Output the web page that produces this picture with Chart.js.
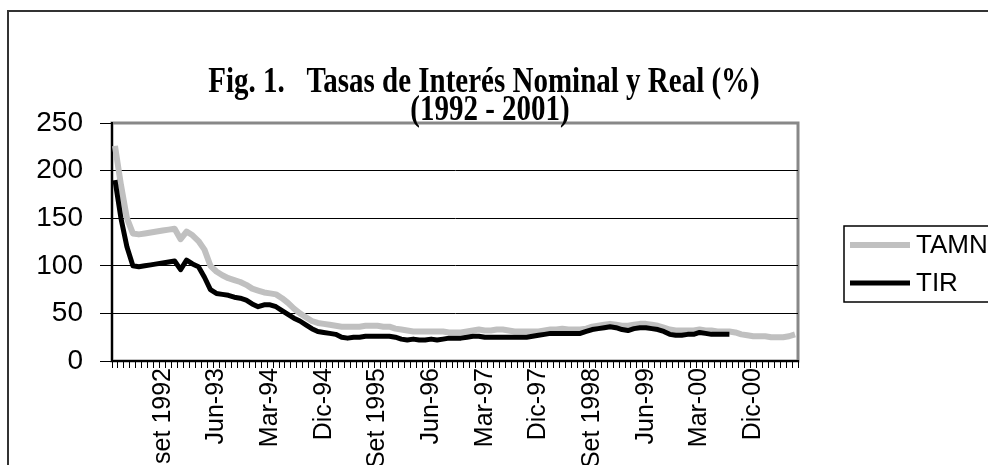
<!DOCTYPE html>
<html>
<head>
<meta charset="utf-8">
<script src="https://cdn.jsdelivr.net/npm/chart.js@4/dist/chart.umd.min.js"></script>
<style>
  html, body { margin: 0; padding: 0; background: #fff; }
  #wrap { width: 988px; height: 465px; position: relative; }
</style>
</head>
<body>
<div id="wrap"><canvas id="myChart"></canvas></div>
<script>
// monthly series, Ene-92 .. Jul-01
const seriesNames = ['TAMN', 'TIR']
const titleLines = ['Fig. 1.   Tasas de Interés Nominal y Real (%)', '(1992 - 2001)']

const tamn = [
  226, 185, 150, 134, 133, 134, 135, 136, 137, 138,
  139, 128, 136, 132, 126, 117, 100, 94, 90, 87,
  85, 83, 80, 76, 74, 72, 71, 70, 66, 61,
  55, 50, 46, 42, 40, 39, 38, 37, 36, 36,
  36, 36, 37, 37, 37, 36, 36, 34, 33, 32,
  31, 31, 31, 31, 31, 31, 30, 30, 30, 31,
  32, 33, 32, 32, 33, 33, 32, 31, 31, 31,
  31, 31, 32, 33, 33, 34, 33, 33, 33, 34,
  36, 37, 38, 39, 38, 37, 37, 38, 39, 39,
  38, 37, 35, 33, 32, 32, 32, 32, 33, 32,
  32, 31, 31, 31, 30, 28, 27, 26, 26, 26,
  25, 25, 25, 26, 28
]

const tir = [
  190, 150, 120, 100, 99, 100, 101, 102, 103, 104,
  105, 96, 106, 102, 99, 88, 75, 71, 70, 69,
  67, 66, 64, 60, 57, 59, 59, 57, 53, 49,
  45, 42, 38, 34, 31, 30, 29, 28, 25, 24,
  25, 25, 26, 26, 26, 26, 26, 25, 23, 22,
  23, 22, 22, 23, 22, 23, 24, 24, 24, 25,
  26, 26, 25, 25, 25, 25, 25, 25, 25, 25,
  26, 27, 28, 29, 29, 29, 29, 29, 29, 31,
  33, 34, 35, 36, 35, 33, 32, 34, 35, 35,
  34, 33, 31, 28, 27, 27, 28, 28, 30, 29,
  28, 28, 28, 28
]

const tickLabels = ['set 1992', 'Jun-93', 'Mar-94', 'Dic-94', 'Set 1995', 'Jun-96',
  'Mar-97', 'Dic-97', 'Set 1998', 'Jun-99', 'Mar-00', 'Dic-00']
const tickIndex = [8, 17, 26, 35, 44, 53, 62, 71, 80, 89, 98, 107]

const monthNames = ['Ene', 'Feb', 'Mar', 'Abr', 'May', 'Jun', 'Jul', 'Ago', 'Set', 'Oct', 'Nov', 'Dic']
const categories = []
for (let y = 92; categories.length < tamn.length; y++) {
  monthNames.forEach(m => {
    if (categories.length < tamn.length) categories.push(m + '-' + String(y % 100).padStart(2, '0'))
  })
}

const sans = "'Liberation Sans', Arial, sans-serif"
const serif = "'Liberation Serif', 'Times New Roman', serif"

// frame, grey plot-area border and the (tall, narrow) title
const backdrop = {
  id: 'backdrop',
  beforeDraw(chart) {
    const { ctx, chartArea: a } = chart
    ctx.save()
    ctx.strokeStyle = '#333'
    ctx.lineWidth = 2
    ctx.beginPath()
    ctx.moveTo(8, 470)
    ctx.lineTo(8, 11)
    ctx.lineTo(995, 11)
    ctx.stroke()
    ctx.strokeStyle = '#888'
    ctx.lineWidth = 3
    ctx.strokeRect(a.left, a.top, a.right - a.left, a.bottom - a.top)

    ctx.fillStyle = '#000'
    ctx.font = 'bold 29px ' + serif
    ctx.textAlign = 'center'
    ctx.textBaseline = 'alphabetic'
    const base = [92, 120]
    const mid = [484, 490]
    titleLines.forEach((t, i) => {
      ctx.save()
      ctx.translate(mid[i], base[i])
      ctx.scale(1, 1.22)
      ctx.fillText(t, 0, 0)
      ctx.restore()
    })
    ctx.restore()
  }
}

// Excel-like boxed legend at the right
const boxLegend = {
  id: 'boxLegend',
  afterDraw(chart) {
    const { ctx } = chart
    const rows = [245, 283]
    ctx.save()
    ctx.strokeStyle = '#000'
    ctx.lineWidth = 1.5
    ctx.strokeRect(844, 226, 200, 76)
    ctx.font = '26px ' + sans
    ctx.textBaseline = 'middle'
    ctx.fillStyle = '#000'
    chart.data.datasets.forEach((ds, i) => {
      ctx.strokeStyle = ds.borderColor
      ctx.lineWidth = ds.borderWidth
      ctx.beginPath()
      ctx.moveTo(850, rows[i])
      ctx.lineTo(910, rows[i])
      ctx.stroke()
      ctx.fillText(ds.label, 916, rows[i] + 1)
    })
    ctx.restore()
  }
}

const ctx = document.getElementById('myChart')

new Chart(ctx, {
  type: 'line',
  data: {
    labels: categories,
    datasets: [
      {
        label: seriesNames[0],
        data: tamn,
        borderColor: '#c0c0c0',
        backgroundColor: '#c0c0c0',
        borderWidth: 6,
        pointRadius: 0,
        tension: 0,
        borderJoinStyle: 'round',
        order: 1
      },
      {
        label: seriesNames[1],
        data: tir,
        borderColor: '#000',
        backgroundColor: '#000',
        borderWidth: 5,
        pointRadius: 0,
        tension: 0,
        borderJoinStyle: 'round',
        order: 0
      }
    ]
  },
  options: {
    animation: false,
    responsive: true,
    maintainAspectRatio: false,
    layout: { padding: { top: 123 } },
    plugins: {
      legend: { display: false },
      tooltip: { enabled: false },
      title: { display: false }
    },
    scales: {
      x: {
        type: 'category',
        offset: true,
        grid: { offset: true, drawOnChartArea: false, color: '#000', tickLength: 7 },
        border: { color: '#000', width: 2 },
        ticks: {
          autoSkip: false,
          minRotation: 90,
          maxRotation: 90,
          padding: 0,
          color: '#000',
          font: { family: sans, size: 25 },
          callback: (val, i) => {
            const k = tickIndex.indexOf(i)
            return k < 0 ? '' : tickLabels[k]
          }
        },
        afterFit: s => { s.height = 104 }
      },
      y: {
        min: 0,
        max: 250,
        ticks: { stepSize: 50, padding: 17, color: '#000', font: { family: sans, size: 28 } },
        grid: {
          color: c => (c.tick && c.tick.value === 250 ? 'rgba(0,0,0,0)' : '#000'),
          tickColor: '#000',
          tickLength: 12,
          lineWidth: 1
        },
        border: { color: '#000', width: 2 },
        afterFit: s => { s.width = 112 }
      },
      side: {
        type: 'linear',
        position: 'right',
        ticks: { display: false },
        grid: { display: false },
        border: { display: false },
        afterFit: s => { s.width = 190 }
      }
    }
  },
  plugins: [backdrop, boxLegend]
})
</script>
</body>
</html>
